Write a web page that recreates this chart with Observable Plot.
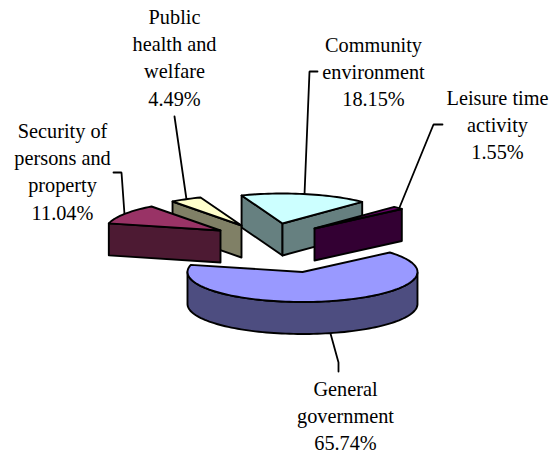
<!DOCTYPE html>
<html>
<head>
<meta charset="utf-8">
<script src="https://cdn.jsdelivr.net/npm/d3@7"></script>
<script src="https://cdn.jsdelivr.net/npm/@observablehq/plot@0.6"></script>
<style>html,body{margin:0;padding:0;background:#fff}svg{display:block}</style>
</head>
<body>
<div id="chart"></div>
<script>
// Data
const categories = ["General government","Security of persons and property","Public health and welfare","Community environment","Leisure time activity"];
const values = [65.74, 11.04, 4.49, 18.15, 1.55];
const labelLines = [
  "General\ngovernment\n65.74%",
  "Security of\npersons and\nproperty\n11.04%",
  "Public\nhealth and\nwelfare\n4.49%",
  "Community\nenvironment\n18.15%",
  "Leisure time\nactivity\n1.55%"
];
const topColors = ["#9999FF","#993366","#FFFFCC","#CCFFFF","#660066"];
const wallColors = ["#4D4D80","#4D1A33","#808066","#668080","#330033"];

// Layout of the exploded 3-D pie
const rx = 115, ry = 30, depth = 32;
const startDeg = 49.4;
const apexes = [[302,271.5],[220,230],[241,225],[282,223],[314,228]];
const drawOrder = [3,2,1,4,0];
const labelPos = [[345,414],[62,169.5],[174,55.5],[373,69.5],[497,122.5]];
const leaders = [
  [[330,333],[338,362],[338,371]],
  [[113,172],[121,172],[124,214]],
  [[174,116],[186,199]],
  [[317,71],[309,71],[304,194]],
  [[442,124],[433,124],[399,207]]
];

const rad = d => d * Math.PI / 180;
const start = rad(startDeg);
const arcs = d3.pie().sort(null).startAngle(start).endAngle(start + 2 * Math.PI)(values);

const faces = [];
let fid = 0;
function addFace(pts, fill) {
  const id = fid++;
  pts.forEach(p => faces.push({id, x: p[0], y: p[1], fill}));
}
for (const i of drawOrder) {
  const [cx, cy] = apexes[i];
  const a0 = arcs[i].startAngle, a1 = arcs[i].endAngle;
  const P = t => [cx + rx * Math.sin(t), cy - ry * Math.cos(t)];
  const down = p => [p[0], p[1] + depth];
  const apex = [cx, cy];
  const n = Math.max(4, Math.ceil((a1 - a0) / rad(2)));
  const arcPts = d3.range(n + 1).map(k => a0 + (a1 - a0) * k / n);
  // walls whose outward side faces the viewer
  const wall = (a, b) => addFace([a, b, down(b), down(a)], wallColors[i]);
  const pa = P(a0), pb = P(a1);
  if (pa[0] < cx) wall(apex, pa);
  if (cx < pb[0]) wall(pb, apex);
  const front = [];
  for (const t of arcPts) {
    const m = ((t % (2 * Math.PI)) + 2 * Math.PI) % (2 * Math.PI);
    if (m >= Math.PI / 2 && m <= 3 * Math.PI / 2) front.push(P(t));
  }
  if (front.length > 1) addFace([...front, ...front.slice().reverse().map(down)], wallColors[i]);
  addFace([apex, ...arcPts.map(P)], topColors[i]);
}

const leaderRows = leaders.flatMap((l, i) => l.map(p => ({i, x: p[0], y: p[1]})));
const labelRows = labelLines.map((text, i) => ({text, x: labelPos[i][0], y: labelPos[i][1], cat: categories[i]}));

const chart = Plot.plot({
  width: 551, height: 453,
  margin: 0,
  style: {background: "#fff"},
  x: {domain: [0, 551], range: [0, 551], axis: null},
  y: {domain: [0, 453], range: [0, 453], axis: null},
  marks: [
    Plot.line(leaderRows, {x: "x", y: "y", z: "i", stroke: "#000", strokeWidth: 1.8, curve: "linear", strokeLinejoin: "miter"}),
    Plot.line(faces, {x: "x", y: "y", z: "id", fill: d => d.fill, stroke: "#000", strokeWidth: 1.9, curve: "linear-closed", strokeLinejoin: "round"}),
    Plot.text(labelRows, {x: "x", y: "y", text: "text", fontFamily: "Liberation Serif", fontSize: 20.3, lineHeight: 1.34, fill: "#000", lineAnchor: "middle", textAnchor: "middle"})
  ]
});
document.getElementById("chart").appendChild(chart);
</script>
</body>
</html>
